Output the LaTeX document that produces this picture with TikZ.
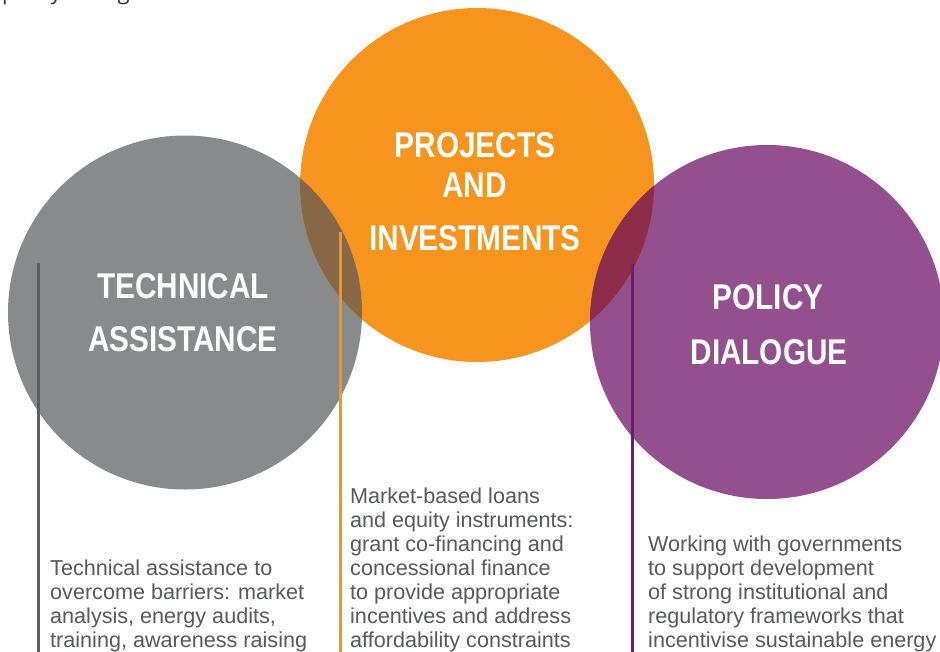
\documentclass[tikz,border=0pt]{standalone}
\usepackage{fontspec}
\setmainfont{Liberation Sans}
\newfontfamily\headfont[FakeStretch=0.83]{Liberation Sans Bold}
\newfontfamily\topfont{Open Sans}
\definecolor{cgray}{RGB}{137,138,140}
\definecolor{corange}{RGB}{247,148,30}
\definecolor{cpurple}{RGB}{147,79,142}
\definecolor{cbrown}{RGB}{135,103,70}
\definecolor{cred}{RGB}{142,45,74}
\definecolor{ctext}{RGB}{88,89,91}
\definecolor{cgline}{RGB}{93,93,95}
\definecolor{cpline}{RGB}{108,29,110}
\tikzset{
  head/.style={text=white, font=\headfont\fontsize{35.8}{40}\selectfont, anchor=base, inner sep=0pt},
  body/.style={text=ctext, font=\fontsize{21.6}{24}\selectfont, align=left, anchor=north west, inner sep=0pt},
  vline/.style={line width=3pt},
}
\begin{document}
\begin{tikzpicture}[x=1pt,y=-1pt]
\clip (0,0) rectangle (940,651);
\fill[white] (0,0) rectangle (940,651);
% partial line of text at the very top
\node[anchor=base west, inner sep=0pt, text=black!80, font=\topfont\fontsize{22}{26}\selectfont] (toptext) at (2,-1) {policy dialogue};
% circles
\fill[cgray] (185,312.5) circle[radius=177pt];
\fill[corange] (477,185) circle[radius=177pt];
\fill[cpurple] (767,322) circle[radius=177pt];
% overlaps
\begin{scope}
  \clip (185,312.5) circle[radius=177pt];
  \fill[cbrown] (477,185) circle[radius=177pt];
\end{scope}
\begin{scope}
  \clip (767,322) circle[radius=177pt];
  \fill[cred] (477,185) circle[radius=177pt];
\end{scope}
% coordinates for the vertical lines
\coordinate (g1) at (38,263);
\coordinate (g2) at (38,652);
\coordinate (o1) at (340,232);
\coordinate (o2) at (340,652);
\coordinate (p1) at (632.5,264);
\coordinate (p2) at (632.5,652);
\draw[vline, cgline] (g1) -- (g2);
\draw[vline, corange] (o1) -- (o2);
\draw[vline, cpline] (p1) -- (p2);
% headings
\node[head] (ta1) at (183,298.5) {TECHNICAL};
\node[head] (ta2) at (183,351) {ASSISTANCE};
\node[head] (pi1) at (475,157) {PROJECTS};
\node[head] (pi2) at (474.5,197.5) {AND};
\node[head] (pi3) at (475,250) {INVESTMENTS};
\node[head] (pd1) at (768,309.5) {POLICY};
\node[head] (pd2) at (769,364.5) {DIALOGUE};
% body texts
\node[body] (tatext) at (50,559.5) {Technical assistance to\\overcome barriers: market\\analysis, energy audits,\\training, awareness raising};
\node[body] (pitext) at (350,487.5) {Market-based loans\\and equity instruments:\\grant co-financing and\\concessional finance\\to provide appropriate\\incentives and address\\affordability constraints};
\node[body] (pdtext) at (648,535.5) {Working with governments\\to support development\\of strong institutional and\\regulatory frameworks that\\incentivise sustainable energy};
\end{tikzpicture}
\end{document}
